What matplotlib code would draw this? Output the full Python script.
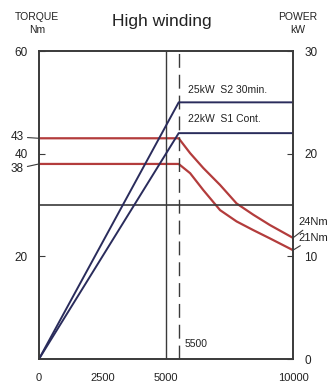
import matplotlib
matplotlib.use("Agg")
import matplotlib.pyplot as plt

plt.rcParams['font.family'] = ['Liberation Sans Narrow', 'Liberation Sans', 'DejaVu Sans']

# speed (rpm) / torque (Nm) curves
rpm_s2 = [0, 5500, 5950, 6470, 7130, 7780, 8440, 9090, 10000]
torque_s2 = [43, 43, 40.1, 37.2, 33.9, 30.3, 28.1, 26.1, 23.6]
rpm_s1 = [0, 5500, 5950, 6470, 7130, 7780, 8440, 9090, 10000]
torque_s1 = [38, 38, 36.2, 32.9, 29.0, 26.8, 25.1, 23.5, 21.2]

# power (kW)
rpm_p = [0, 5500, 10000]
power_s2 = [0, 25, 25]
power_s1 = [0, 22, 22]

xticks = [0, 2500, 5000, 10000]
red = '#b33c3c'
navy = '#2a2c5c'
dark = '#3a3a3a'
txt = '#222222'

fig = plt.figure(figsize=(3.36, 3.85), dpi=100)
ax = fig.add_axes([0.116, 0.0675, 0.756, 0.8])
ax2 = ax.twinx()

ax.plot(rpm_s2, torque_s2, color=red, lw=1.6)
ax.plot(rpm_s1, torque_s1, color=red, lw=1.6)
ax2.plot(rpm_p, power_s2, color=navy, lw=1.4)
ax2.plot(rpm_p, power_s1, color=navy, lw=1.4)

ax.axhline(30, color=dark, lw=1.2)
ax.axvline(5000, color=dark, lw=1.0)
ax.axvline(5500, color=dark, lw=1.0, dashes=(10, 5))

ax.set_xlim(0, 10000)
ax.set_ylim(0, 60)
ax2.set_ylim(0, 30)

for a in (ax, ax2):
    for s in a.spines.values():
        s.set_color(dark)
        s.set_linewidth(1.2)

ax.set_xticks(xticks)
ax.set_xticklabels([str(v) for v in xticks])
ax.tick_params(axis='x', length=0, pad=10, labelsize=8, colors=txt)
ax.set_yticks([20, 40, 60])
ax.tick_params(axis='y', direction='in', length=4, pad=8, labelsize=8.5, colors=dark, labelcolor=txt)
ax2.set_yticks([0, 10, 20, 30])
ax2.tick_params(axis='y', direction='in', length=4, pad=8, labelsize=8.5, colors=dark, labelcolor=txt)

# leader labels for 43 / 38
ax.annotate('43', xy=(0, 43), xytext=(-16, 1), textcoords='offset points', annotation_clip=False,
            fontsize=8.5, ha='center', va='center', color=txt,
            arrowprops=dict(arrowstyle='-', color=dark, lw=0.8, shrinkA=1, shrinkB=0))
ax.annotate('38', xy=(0, 38), xytext=(-16, -3.5), textcoords='offset points', annotation_clip=False,
            fontsize=8.5, ha='center', va='center', color=txt,
            arrowprops=dict(arrowstyle='-', color=dark, lw=0.8, shrinkA=1, shrinkB=0))

ax.text(5850, 52.4, '25kW  S2 30min.', fontsize=7.5, color=txt, va='center')
ax.text(5850, 46.7, '22kW  S1 Cont.', fontsize=7.5, color=txt, va='center')
ax.text(5750, 3, '5500', fontsize=7.5, color=txt, va='center')

ax.annotate('24Nm', xy=(10000, 23.6), xytext=(10200, 26.6), annotation_clip=False,
            fontsize=8, va='center', color=txt,
            arrowprops=dict(arrowstyle='-', color=dark, lw=0.8, shrinkA=0, shrinkB=0))
ax.annotate('21Nm', xy=(10000, 21.2), xytext=(10200, 23.6), annotation_clip=False,
            fontsize=8, va='center', color=txt,
            arrowprops=dict(arrowstyle='-', color=dark, lw=0.8, shrinkA=0, shrinkB=0))

fig.text(0.482, 0.943, 'High winding', fontsize=12.5, ha='center', va='center', color=txt)
fig.text(0.11, 0.955, 'TORQUE', fontsize=7.5, ha='center', va='center', color=txt)
fig.text(0.11, 0.922, 'Nm', fontsize=7.5, ha='center', va='center', color=txt)
fig.text(0.885, 0.955, 'POWER', fontsize=7.5, ha='center', va='center', color=txt)
fig.text(0.885, 0.922, 'kW', fontsize=7.5, ha='center', va='center', color=txt)

fig.savefig('out.png', dpi=100)
